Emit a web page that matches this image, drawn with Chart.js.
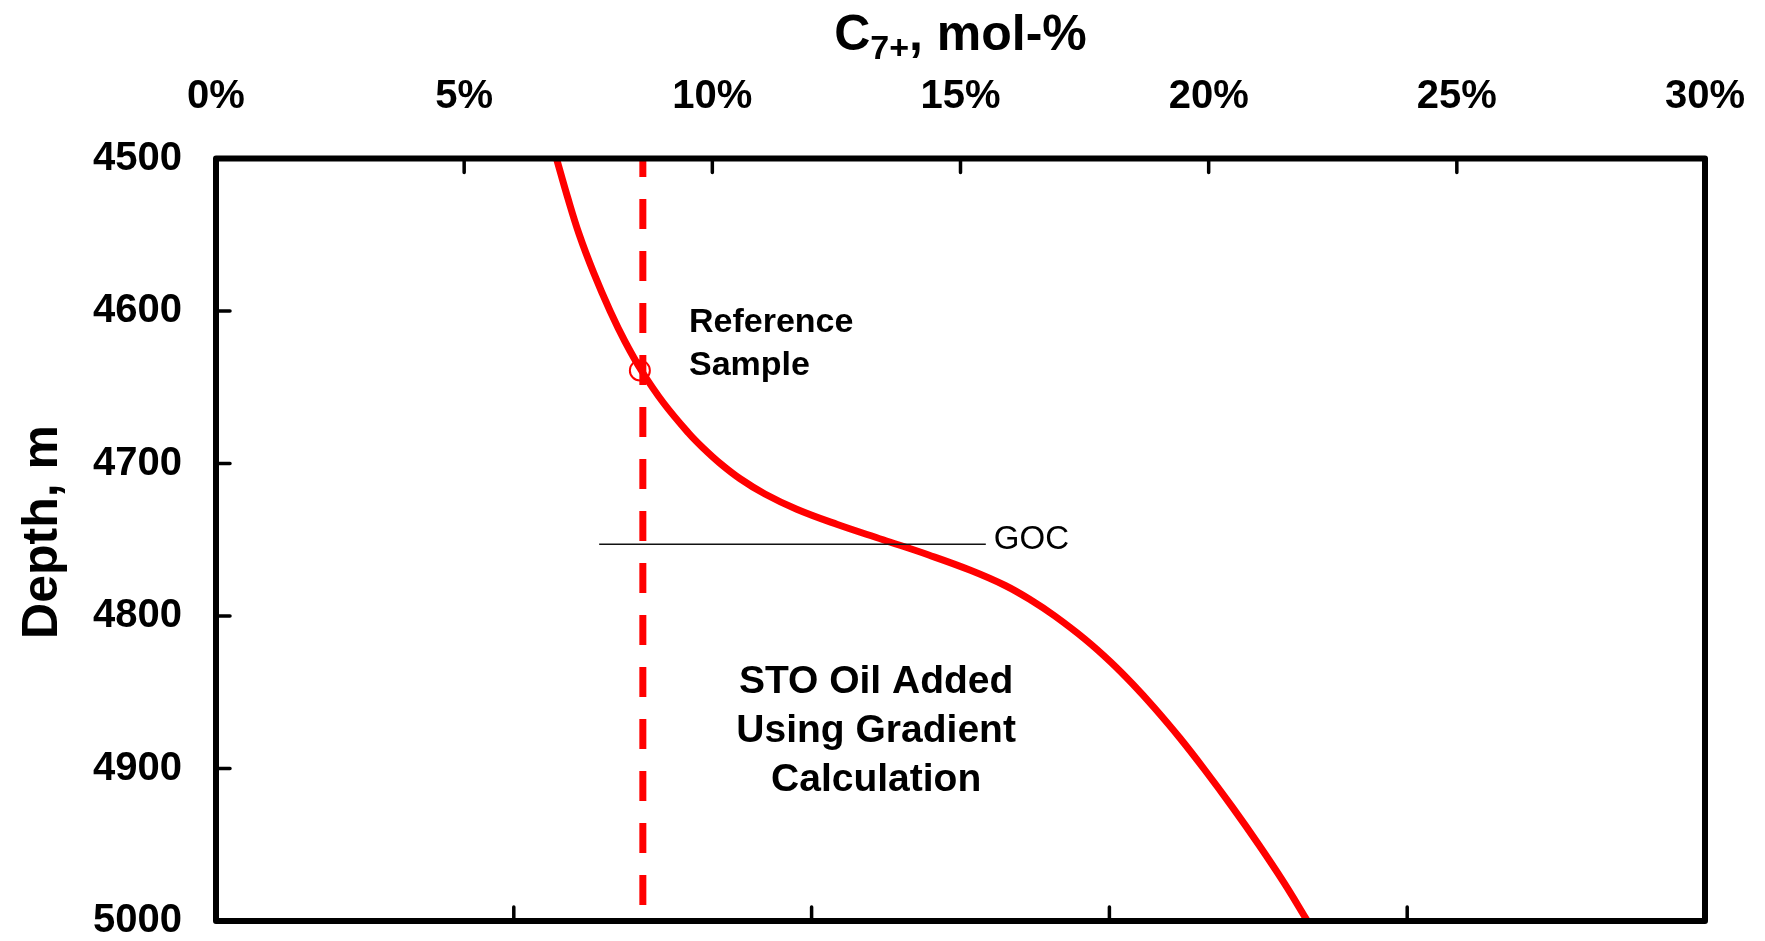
<!DOCTYPE html>
<html>
<head>
<meta charset="utf-8">
<title>C7+ versus depth</title>
<script src="https://cdn.jsdelivr.net/npm/chart.js@4.4.1/dist/chart.umd.min.js"></script>
<style>
  html, body { margin: 0; padding: 0; background: #fff; }
  #wrap { position: relative; width: 1765px; height: 941px; }
</style>
</head>
<body>
<div id="wrap"><canvas id="gradientChart"></canvas></div>
<script>
// ====================================
// C7+ GRADIENT WITH DEPTH
// ====================================

// ---- Computed profile: depth (m) / C7+ (mol-%) ----
const depthM    = [4500, 4525, 4550, 4575, 4600, 4620, 4640, 4660, 4680, 4690,
                   4700, 4710, 4720, 4730, 4740, 4750, 4760, 4770, 4780, 4790,
                   4800, 4815, 4830, 4845, 4860, 4880, 4900, 4925, 4950, 4975,
                   5000];
const c7PlusPct = [6.86, 7.08, 7.32, 7.61, 7.94, 8.24, 8.59, 9.01, 9.52, 9.82,
                   10.16, 10.56, 11.06, 11.70, 12.52, 13.44, 14.36, 15.20, 15.90, 16.44,
                   16.90, 17.50, 18.02, 18.48, 18.90, 19.42, 19.90, 20.47, 21.01, 21.52,
                   21.99];

// ---- Reference sample ----
const sampleDepth = [4639];
const sampleC7    = [8.54];

// ---- STO oil line (constant composition) ----
const stoDepth = [4500, 5000];
const stoC7    = [8.6, 8.6];

// ---- Gas-oil contact ----
const gocDepth = [4753, 4753];
const gocC7    = [7.72, 15.51];

// ---- Axis ticks ----
const xTicks      = [0, 5, 10, 15, 20, 25, 30];
const yTicks      = [4500, 4600, 4700, 4800, 4900, 5000];
const bottomTicks = [0, 1, 2, 3, 4, 5];

const FONT = "'Liberation Sans', Arial, Helvetica, sans-serif";
const RED = '#ff0000';
const TICK_LEN = 14;

// ---- Helpers ----
const toPoints = (xs, ys) => xs.map((x, i) => ({ x: x, y: ys[i] }));
const fixedTicks = values => scale => { scale.ticks = values.map(v => ({ value: v })); };

// ---- Frame: inward tick marks + heavy border ----
const framePlugin = {
    id: 'frame',
    afterDatasetsDraw(chart) {
        const { ctx, chartArea: a, scales } = chart;
        const inner = (scale, draw) => scale.ticks.forEach((t, i) => {
            if (i === 0 || i === scale.ticks.length - 1) return;
            draw(scale.getPixelForTick(i));
        });

        ctx.save();
        ctx.strokeStyle = '#000';
        ctx.lineCap = 'round';
        ctx.lineWidth = 3.5;
        ctx.beginPath();
        inner(scales.x,  p => { ctx.moveTo(p, a.top);    ctx.lineTo(p, a.top + TICK_LEN); });
        inner(scales.x2, p => { ctx.moveTo(p, a.bottom); ctx.lineTo(p, a.bottom - TICK_LEN); });
        inner(scales.y,  p => { ctx.moveTo(a.left, p);   ctx.lineTo(a.left + TICK_LEN, p); });
        ctx.stroke();

        ctx.lineWidth = 6;
        ctx.lineJoin = 'round';
        ctx.strokeRect(a.left, a.top, a.width, a.height);
        ctx.restore();
    }
};

// ---- Text: axis titles and notes ----
const notes = [
    { lines: ['Reference', 'Sample'], x: 9.53, y: 4613.6, align: 'left', size: 34, gap: 43 },
    { lines: ['STO Oil Added', 'Using Gradient', 'Calculation'], x: 13.3, y: 4850.7, align: 'center', size: 39, gap: 49 }
];

const textPlugin = {
    id: 'texts',
    afterDraw(chart) {
        const { ctx, chartArea: a, scales } = chart;
        ctx.save();
        ctx.fillStyle = '#000';
        ctx.textBaseline = 'alphabetic';

        // top title with subscript
        const big = 'bold 50px ' + FONT;
        const small = 'bold 34px ' + FONT;
        ctx.font = big;
        const wC = ctx.measureText('C').width;
        const wRest = ctx.measureText(', mol-%').width;
        ctx.font = small;
        const wSub = ctx.measureText('7+').width;
        let tx = (a.left + a.right) / 2 - (wC + wSub + wRest) / 2;
        ctx.textAlign = 'left';
        ctx.font = big;
        ctx.fillText('C', tx, 50);
        tx += wC;
        ctx.font = small;
        ctx.fillText('7+', tx, 59);
        tx += wSub;
        ctx.font = big;
        ctx.fillText(', mol-%', tx, 50);

        // left title
        ctx.save();
        ctx.translate(57, 532);
        ctx.rotate(-Math.PI / 2);
        ctx.textAlign = 'center';
        ctx.font = big;
        ctx.fillText('Depth, m', 0, 0);
        ctx.restore();

        // notes
        notes.forEach(n => {
            ctx.font = 'bold ' + n.size + 'px ' + FONT;
            ctx.textAlign = n.align;
            const x = scales.x.getPixelForValue(n.x);
            const y = scales.y.getPixelForValue(n.y);
            n.lines.forEach((line, i) => ctx.fillText(line, x, y + i * n.gap));
        });

        // GOC label at end of contact line
        ctx.font = '33px ' + FONT;
        ctx.textAlign = 'left';
        ctx.fillText('GOC',
            scales.x.getPixelForValue(gocC7[1]) + 8,
            scales.y.getPixelForValue(gocDepth[1]) + 5);
        ctx.restore();
    }
};

// ---- Chart ----
function initGradientChart() {
    const ctx = document.getElementById('gradientChart');

    new Chart(ctx, {
        type: 'scatter',
        data: {
            datasets: [
                {
                    label: 'Reference sample',
                    data: toPoints(sampleC7, sampleDepth),
                    pointStyle: 'circle',
                    pointRadius: 10,
                    pointBorderWidth: 2,
                    pointBorderColor: RED,
                    pointBackgroundColor: 'rgba(255,255,255,0)',
                    order: 0
                },
                {
                    label: 'GOC',
                    data: toPoints(gocC7, gocDepth),
                    showLine: true,
                    borderColor: '#111',
                    borderWidth: 1.5,
                    pointRadius: 0,
                    order: 1
                },
                {
                    label: 'C7+ gradient',
                    data: toPoints(c7PlusPct, depthM),
                    showLine: true,
                    borderColor: RED,
                    borderWidth: 7,
                    tension: 0.4,
                    pointRadius: 0,
                    order: 2
                },
                {
                    label: 'STO oil',
                    data: toPoints(stoC7, stoDepth),
                    showLine: true,
                    borderColor: RED,
                    borderWidth: 7,
                    borderDash: [30, 22],
                    borderDashOffset: 11.5,
                    borderCapStyle: 'butt',
                    pointRadius: 0,
                    order: 3
                }
            ]
        },
        options: {
            responsive: true,
            maintainAspectRatio: false,
            animation: false,
            layout: { padding: { left: 0, right: 60, top: 0, bottom: 0 } },
            plugins: {
                legend: { display: false },
                tooltip: { enabled: false }
            },
            scales: {
                x: {
                    type: 'linear',
                    position: 'top',
                    min: 0,
                    max: 30,
                    afterBuildTicks: fixedTicks(xTicks),
                    grid: { display: false, drawTicks: false },
                    border: { display: false },
                    ticks: {
                        padding: 38,
                        color: '#000',
                        font: { family: FONT, size: 40, weight: 'bold' },
                        callback: v => v + '%'
                    },
                    afterFit(scale) {
                        scale.height = 158.5;
                        scale.paddingLeft = 0;
                        scale.paddingRight = 0;
                    }
                },
                x2: {
                    type: 'linear',
                    position: 'bottom',
                    min: 0,
                    max: 5,
                    afterBuildTicks: fixedTicks(bottomTicks),
                    grid: { display: false, drawTicks: false },
                    border: { display: false },
                    ticks: { display: false },
                    afterFit(scale) {
                        scale.height = 20;
                        scale.paddingLeft = 0;
                        scale.paddingRight = 0;
                    }
                },
                y: {
                    type: 'linear',
                    position: 'left',
                    reverse: true,
                    min: 4500,
                    max: 5000,
                    afterBuildTicks: fixedTicks(yTicks),
                    grid: { display: false, drawTicks: false },
                    border: { display: false },
                    ticks: {
                        padding: 34,
                        color: '#000',
                        font: { family: FONT, size: 40, weight: 'bold' },
                        callback: v => String(v)
                    },
                    afterFit(scale) {
                        scale.width = 216;
                        scale.paddingTop = 0;
                        scale.paddingBottom = 0;
                    }
                }
            }
        },
        plugins: [framePlugin, textPlugin]
    });
}

document.addEventListener('DOMContentLoaded', initGradientChart);
</script>
</body>
</html>
